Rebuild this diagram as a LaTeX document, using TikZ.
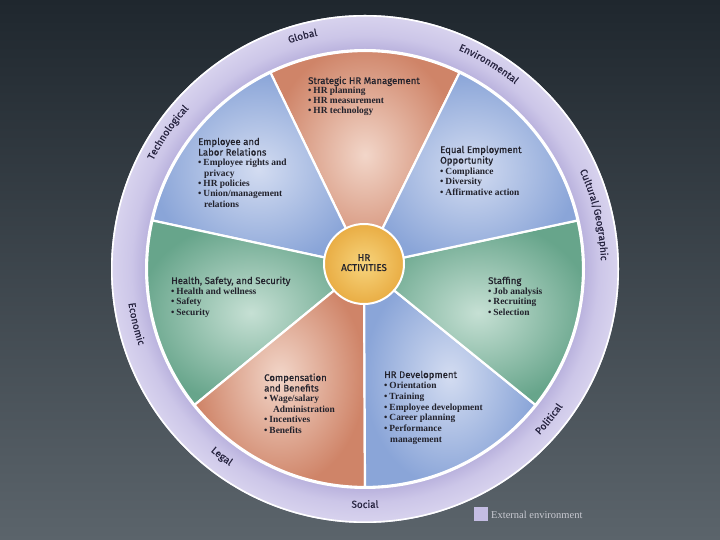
\documentclass[tikz,border=0pt]{standalone}
\usepackage{fontspec}
\setmainfont{Liberation Serif}
\newfontfamily\sansf{Fira Sans}[FakeBold=0.35]
\newfontfamily\serff{Liberation Serif}
\usetikzlibrary{calc,decorations.text}
\definecolor{bgtop}{HTML}{1F272E}
\definecolor{bgbot}{HTML}{5B646B}
\definecolor{ringA}{HTML}{B2AAD9}
\definecolor{ringB}{HTML}{CCC6E8}
\definecolor{ringC}{HTML}{D8D3EE}
\definecolor{orD}{HTML}{CF8468}
\definecolor{orL}{HTML}{F2D6C9}
\definecolor{blD}{HTML}{8AA5D8}
\definecolor{blL}{HTML}{D3DCF1}
\definecolor{grD}{HTML}{67A58B}
\definecolor{grL}{HTML}{C6E0D4}
\definecolor{yeL}{HTML}{F7D47C}
\definecolor{yeD}{HTML}{E9AD44}
\definecolor{txt}{HTML}{22222C}
\definecolor{ringtxt}{HTML}{26233F}
\definecolor{legtxt}{HTML}{C9CAD2}
\definecolor{legsq}{HTML}{C4BDE3}
\pgfdeclareradialshading{ringshade}{\pgfpointorigin}{color(0bp)=(ringA); color(21bp)=(ringA); color(23bp)=(ringB); color(25bp)=(ringC); color(50bp)=(ringC)}
\newcommand\hd[1]{{\sansf\fontsize{9.6}{10}\selectfont #1}}
\newcommand\itm[1]{{\serff\bfseries\textbullet\hspace{2pt}#1}}
\newcommand\cnt[2]{{\serff\bfseries\hspace{#1}#2}}
\newcommand\ringf{\sansf\fontsize{10}{10}\selectfont}
\newcommand\ringcw[3]{%
  \pgfmathsetmacro\aS{#1+35}\pgfmathsetmacro\aE{#1-35}%
  \path[shift={(365,271)}, decorate, decoration={text along path, text align=center, text color=ringtxt, text={|\ringf|#3}}] (\aS:#2) arc[start angle=\aS, end angle=\aE, radius=#2];}
\newcommand\ringccw[3]{%
  \pgfmathsetmacro\aS{#1-35}\pgfmathsetmacro\aE{#1+35}%
  \path[shift={(365,271)}, decorate, decoration={text along path, text align=center, text color=ringtxt, text={|\ringf|#3}}] (\aS:#2) arc[start angle=\aS, end angle=\aE, radius=#2];}
\tikzset{
  wedge/.style={draw=white, line width=2.2pt, line join=round},
  blk/.style={anchor=base west, inner sep=0pt, text=txt},
}
\begin{document}
\begin{tikzpicture}[x=1pt,y=1pt]
\useasboundingbox (0,0) rectangle (720,540);
\shade[top color=bgtop, bottom color=bgbot] (0,0) rectangle (720,540);
% outer ring
\coordinate (C) at (365,271);
\coordinate (A) at (364,274);
\shade[shading=ringshade] (C) circle (254);
\draw[white, line width=1.6pt] (C) circle (253.2);
\fill[white] (C) circle (220);
% wedges
\shadedraw[wedge, inner color=orL, outer color=orD] (A) -- ($(C)+(64.29:218)$) arc[start angle=64.29, end angle=115.71, radius=218] -- cycle;
\shadedraw[wedge, inner color=blL, outer color=blD] (A) -- ($(C)+(115.71:218)$) arc[start angle=115.71, end angle=167.14, radius=218] -- cycle;
\shadedraw[wedge, inner color=grL, outer color=grD] (A) -- ($(C)+(167.14:218)$) arc[start angle=167.14, end angle=218.57, radius=218] -- cycle;
\shadedraw[wedge, inner color=orL, outer color=orD] (A) -- ($(C)+(218.57:218)$) arc[start angle=218.57, end angle=270, radius=218] -- cycle;
\shadedraw[wedge, inner color=blL, outer color=blD] (A) -- ($(C)+(270:218)$) arc[start angle=270, end angle=321.43, radius=218] -- cycle;
\shadedraw[wedge, inner color=grL, outer color=grD] (A) -- ($(C)+(321.43:218)$) arc[start angle=321.43, end angle=372.86, radius=218] -- cycle;
\shadedraw[wedge, inner color=blL, outer color=blD] (A) -- ($(C)+(12.86:218)$) arc[start angle=12.86, end angle=64.29, radius=218] -- cycle;
% centre
\shadedraw[draw=white, line width=2pt, inner color=yeL, outer color=yeD] (364,276) circle (40);
\node[anchor=base, inner sep=0pt, text=txt] (hr) at (364,279) {\sansf\fontsize{9.8}{10}\selectfont\begin{tabular}[t]{@{}c@{}}HR\\ACTIVITIES\end{tabular}};
% ring labels
\ringcw{105}{238}{Global}
\ringcw{58.9}{238}{Environmental}
\ringcw{145.3}{238}{Technological}
\ringcw{13.3}{236}{Cultural/Geographic}
\ringccw{193.5}{239}{Economic}
\ringccw{232.6}{239}{Legal}
\ringccw{270}{239}{Social}
\ringccw{-39.2}{241}{Political}
% wedge texts
\node[blk] (sm) at (308,456) {\fontsize{9.4}{10}\selectfont\begin{tabular}[t]{@{}l@{}}\hd{Strategic HR Management}\\ \itm{HR planning}\\ \itm{HR measurement}\\ \itm{HR technology}\end{tabular}};
\node[blk] (el) at (198,395) {\fontsize{9.4}{10.35}\selectfont\begin{tabular}[t]{@{}l@{}}\hd{Employee and}\\ \hd{Labor Relations}\\ \itm{Employee rights and}\\ \cnt{6pt}{privacy}\\ \itm{HR policies}\\ \itm{Union/management}\\ \cnt{6pt}{relations}\end{tabular}};
\node[blk] (eeo) at (440,387) {\fontsize{9.4}{10.5}\selectfont\begin{tabular}[t]{@{}l@{}}\hd{Equal Employment}\\ \hd{Opportunity}\\ \itm{Compliance}\\ \itm{Diversity}\\ \itm{Affirmative action}\end{tabular}};
\node[blk] (hs) at (171,256) {\fontsize{9.4}{10.35}\selectfont\begin{tabular}[t]{@{}l@{}}\hd{Health, Safety, and Security}\\ \itm{Health and wellness}\\ \itm{Safety}\\ \itm{Security}\end{tabular}};
\node[blk] (st) at (488,256) {\fontsize{9.4}{10.5}\selectfont\begin{tabular}[t]{@{}l@{}}\hd{Staffing}\\ \itm{Job analysis}\\ \itm{Recruiting}\\ \itm{Selection}\end{tabular}};
\node[blk] (cb) at (264,159) {\fontsize{9.4}{10.5}\selectfont\begin{tabular}[t]{@{}l@{}}\hd{Compensation}\\ \hd{and Benefits}\\ \itm{Wage/salary}\\ \cnt{9pt}{Administration}\\ \itm{Incentives}\\ \itm{Benefits}\end{tabular}};
\node[blk] (hd) at (384,162) {\fontsize{9.4}{10.7}\selectfont\begin{tabular}[t]{@{}l@{}}\hd{HR Development}\\ \itm{Orientation}\\ \itm{Training}\\ \itm{Employee development}\\ \itm{Career planning}\\ \itm{Performance}\\ \cnt{6pt}{management}\end{tabular}};
% legend
\fill[legsq] (474,19) rectangle (488,33);
\node[anchor=base west, inner sep=0pt, text=legtxt] (leg) at (491,21) {\serff\fontsize{10.5}{11}\selectfont External environment};
\end{tikzpicture}
\end{document}
